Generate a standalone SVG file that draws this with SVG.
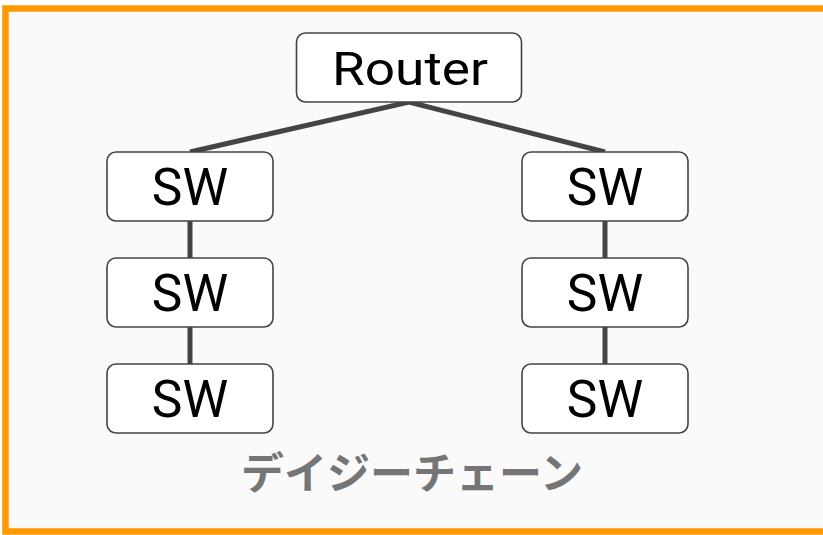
<svg xmlns="http://www.w3.org/2000/svg" width="823" height="535" viewBox="0 0 823 535">
  <style>
    .box { fill: #ffffff; stroke: #444444; stroke-width: 1.6; }
    .lbl { font-family: Roboto, "Liberation Sans", sans-serif; font-size: 51.5px; fill: #000000; text-anchor: middle; }
    .rt { font-size: 47px; }
    .link { stroke: #444444; stroke-width: 5; fill: none; }
    .caption { font-family: "Noto Sans CJK JP", "Noto Sans", sans-serif; font-weight: bold; font-size: 43px; fill: #757575; text-anchor: middle; }
  </style>
  <!-- frame -->
  <rect x="5.5" y="8.5" width="830" height="523" fill="#fafafa" stroke="#ff9900" stroke-width="6.5"/>

  <g id="connectors">
    <polyline class="link" points="190,152 409,102 605,152"/>
    <line class="link" x1="190" y1="221" x2="190" y2="258"/>
    <line class="link" x1="190" y1="327" x2="190" y2="364"/>
    <line class="link" x1="605" y1="221" x2="605" y2="258"/>
    <line class="link" x1="605" y1="327" x2="605" y2="364"/>
  </g>

  <g id="router">
    <rect class="box" x="296.5" y="33" width="225" height="69" rx="9"/>
    <text class="lbl rt" x="410" y="85" textLength="156" lengthAdjust="spacingAndGlyphs">Router</text>
  </g>

  <g id="sw-left-1">
    <rect class="box" x="107" y="152" width="166" height="69" rx="9"/>
    <text class="lbl" x="190" y="205">SW</text>
  </g>
  <g id="sw-left-2">
    <rect class="box" x="107" y="258" width="166" height="69" rx="9"/>
    <text class="lbl" x="190" y="311">SW</text>
  </g>
  <g id="sw-left-3">
    <rect class="box" x="107" y="364" width="166" height="69" rx="9"/>
    <text class="lbl" x="190" y="417">SW</text>
  </g>

  <g id="sw-right-1">
    <rect class="box" x="522" y="152" width="166" height="69" rx="9"/>
    <text class="lbl" x="605" y="205">SW</text>
  </g>
  <g id="sw-right-2">
    <rect class="box" x="522" y="258" width="166" height="69" rx="9"/>
    <text class="lbl" x="605" y="311">SW</text>
  </g>
  <g id="sw-right-3">
    <rect class="box" x="522" y="364" width="166" height="69" rx="9"/>
    <text class="lbl" x="605" y="417">SW</text>
  </g>

  <text class="caption" x="412" y="489">デイジーチェーン</text>
</svg>
